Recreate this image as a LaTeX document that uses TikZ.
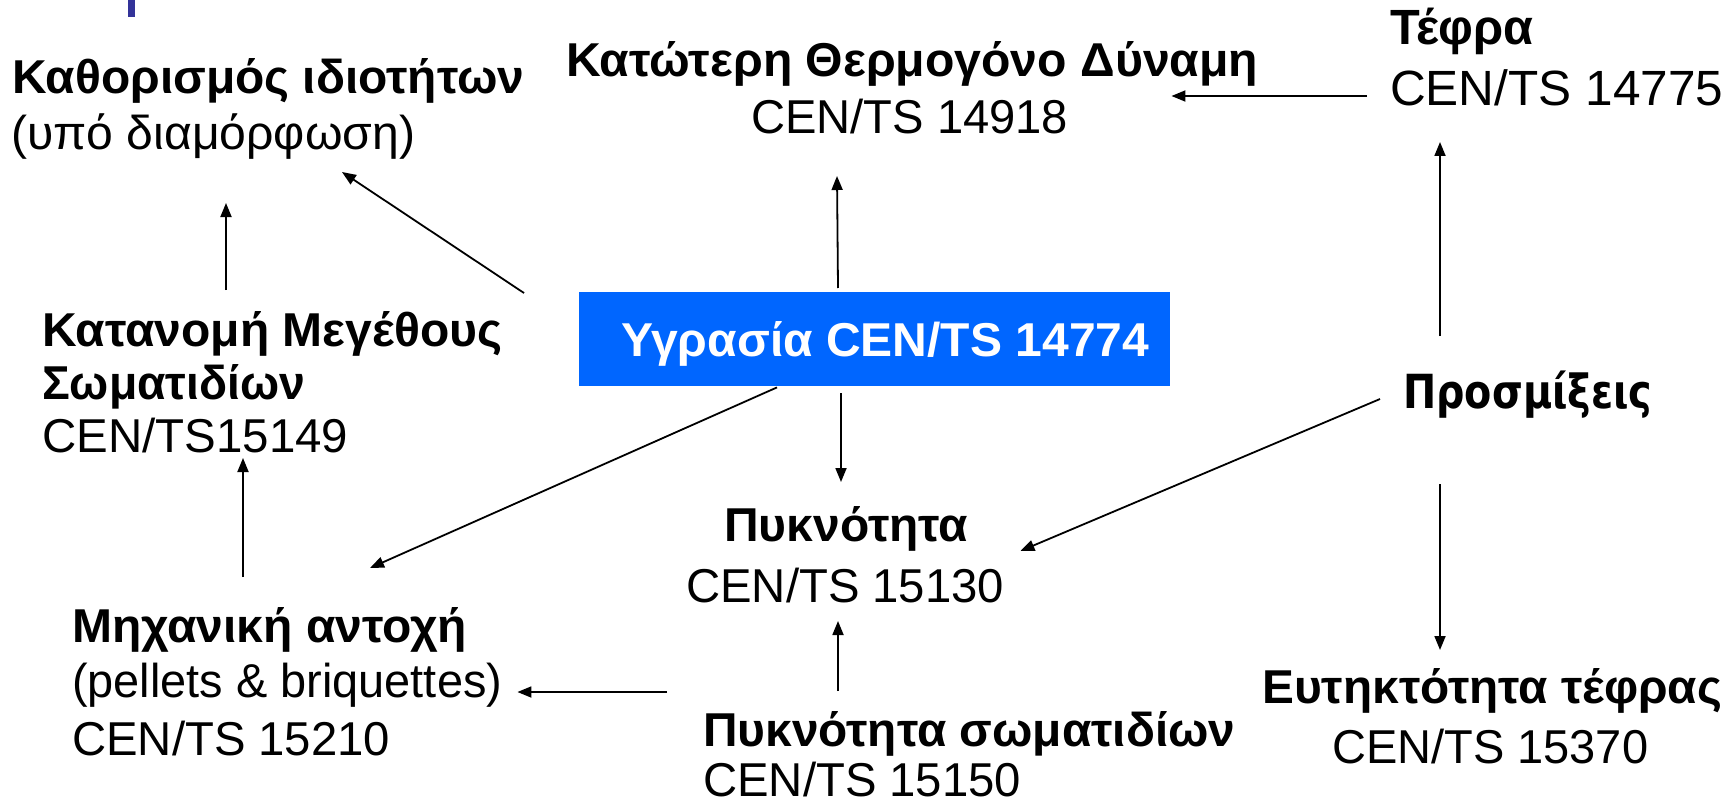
\documentclass[tikz,border=0pt]{standalone}
\usepackage{fontspec}
\usepackage{graphicx}
\setmainfont{Liberation Sans}
\newfontfamily\humfont{DejaVu Sans}
\usetikzlibrary{arrows.meta}

% set a line of text to a given width, keeping its height
\newcommand\fitw[2]{\resizebox{#1pt}{\height}{#2}}

\definecolor{moistblue}{HTML}{0066FF}
\definecolor{markblue}{HTML}{333399}

\tikzset{
  txt/.style={inner sep=0pt, anchor=base west, font=\fontsize{47.5}{57}\selectfont},
  btxt/.style={inner sep=0pt, anchor=base west, font=\fontsize{47.5}{57}\selectfont\bfseries},
  bigtxt/.style={inner sep=0pt, anchor=base west, font=\fontsize{49.5}{59}\selectfont},
  bigbtxt/.style={inner sep=0pt, anchor=base west, font=\fontsize{49.5}{59}\selectfont\bfseries},
  humtxt/.style={inner sep=0pt, anchor=base west, font=\fontsize{47}{56}\humfont\bfseries},
  arr/.style={-{Triangle[length=14pt,width=11pt]}, line width=1.8pt, black},
}

\begin{document}
\begin{tikzpicture}[x=1pt,y=-1pt]
\useasboundingbox (0,0) rectangle (1728,805);
\fill[white] (0,0) rectangle (1728,805);
\fill[markblue] (128,0) rectangle (135,17);

% property labels
\node[btxt] (kath1) at (12,94) {\fitw{512}{Καθορισμός ιδιοτήτων}};
\node[txt]  (kath2) at (11,150) {\fitw{404}{(υπό διαμόρφωση)}};

\node[btxt] (thermo1) at (566,77) {\fitw{692}{Κατώτερη Θερμογόνο Δύναμη}};
\node[txt]  (thermo2) at (751,134) {\fitw{317}{CEN/TS 14918}};

\node[bigbtxt] (tefra1) at (1390,45) {\fitw{143}{Τέφρα}};
\node[bigtxt]  (tefra2) at (1390,106) {\fitw{333}{CEN/TS 14775}};

\node[btxt] (kat1) at (42,346) {\fitw{460}{Κατανομή Μεγέθους}};
\node[btxt] (kat2) at (42,399) {\fitw{263}{Σωματιδίων}};
\node[txt]  (kat3) at (42,452) {\fitw{306}{CEN/TS15149}};

\node[fill=moistblue, inner sep=0pt, anchor=north west,
      minimum width=591pt, minimum height=94pt] (moist) at (579,292) {};
\node[btxt, text=white] (moistlbl) at ([shift={(42,64)}]moist.north west)
      {\fitw{528}{Υγρασία CEN/TS 14774}};

\node[humtxt] (prosm) at (1403,408) {\fitw{249}{Προσμίξεις}};

\node[btxt] (pyk1) at (724,541) {\fitw{244}{Πυκνότητα}};
\node[txt]  (pyk2) at (686,602) {\fitw{318}{CEN/TS 15130}};

\node[btxt] (mix1) at (72,642) {\fitw{395}{Μηχανική αντοχή}};
\node[txt]  (mix2) at (72,697) {\fitw{430}{(pellets \& briquettes)}};
\node[txt]  (mix3) at (72,755) {\fitw{318}{CEN/TS 15210}};

\node[btxt] (pyks1) at (703,746) {\fitw{532}{Πυκνότητα σωματιδίων}};
\node[txt]  (pyks2) at (703,796) {\fitw{318}{CEN/TS 15150}};

\node[btxt] (eut1) at (1262,703) {\fitw{460}{Ευτηκτότητα τέφρας}};
\node[txt]  (eut2) at (1332,763) {\fitw{316}{CEN/TS 15370}};

% connectors
\draw[arr] ([shift={(-55,1)}]moist.north west) -- ([shift={(331,22)}]kath2.base west);
\draw[arr] ([shift={(184,-56)}]kat1.base west) -- ([shift={(215,53)}]kath2.base west);
\draw[arr] ([shift={(171,-65)}]mix1.base west) -- ([shift={(201,6)}]kat3.base west);
\draw[arr] ([shift={(259,-4)}]moist.north west) -- ([shift={(86,42)}]thermo2.base west);
\draw[arr] ([shift={(-23,-10)}]tefra2.base west) -- ([shift={(-87,19)}]thermo1.base east);
\draw[arr] ([shift={(37,-72)}]prosm.base west) -- ([shift={(50,36)}]tefra2.base west);
\draw[arr] ([shift={(198,1)}]moist.south west) -- ([shift={(298,-74)}]mix1.base west);
\draw[arr] ([shift={(262,7)}]moist.south west) -- ([shift={(117,-59)}]pyk1.base west);
\draw[arr] ([shift={(-23,-9)}]prosm.base west) -- ([shift={(16,-51)}]pyk2.base east);
\draw[arr] ([shift={(37,76)}]prosm.base west) -- ([shift={(178,-53)}]eut1.base west);
\draw[arr] ([shift={(135,-55)}]pyks1.base west) -- ([shift={(152,19)}]pyk2.base west);
\draw[arr] ([shift={(-36,-54)}]pyks1.base west) -- ([shift={(15,-5)}]mix2.base east);
\end{tikzpicture}
\end{document}
